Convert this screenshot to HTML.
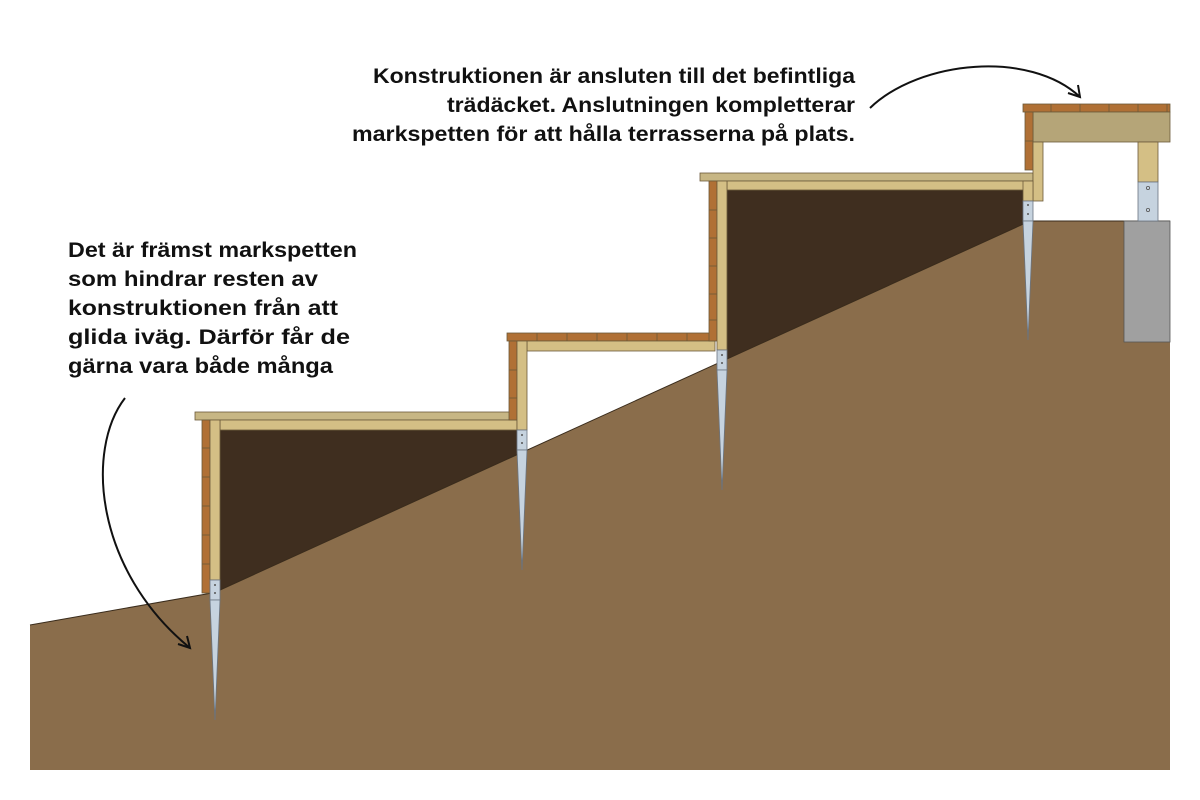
<!DOCTYPE html>
<html><head><meta charset="utf-8"><style>html,body{margin:0;padding:0;background:#fff}svg{display:block}</style></head>
<body>
<svg width="1200" height="800" viewBox="0 0 1200 800" xmlns="http://www.w3.org/2000/svg">
<g stroke="#5a4a35" stroke-width="0.8">
<polygon points="220,430 517,430 517,456 220,591" fill="#3f2e1f"/>
<polygon points="727,190 1024,190 1024,225 727,361" fill="#3f2e1f"/>
<polygon points="30,625 212,593 220,590 1030,221 1170,221 1170,770 30,770" fill="#8a6d4b" stroke="none"/>
<polyline points="30,625 212,593 220,590 1030,221 1170,221" fill="none" stroke="#3a2c1c" stroke-width="1"/>
<rect x="1124" y="221" width="46" height="121" fill="#a0a0a0" stroke="#555"/>
</g>
<g stroke="#6b5a3a" stroke-width="0.8">
<rect x="195" y="412" width="322" height="8" fill="#c7b684"/>
<rect x="220" y="420" width="297" height="10" fill="#d4bf85"/>
<rect x="202" y="420" width="8" height="173" fill="#b07035"/>
<line x1="202" y1="448" x2="210" y2="448"/><line x1="202" y1="477" x2="210" y2="477"/><line x1="202" y1="506" x2="210" y2="506"/><line x1="202" y1="535" x2="210" y2="535"/><line x1="202" y1="564" x2="210" y2="564"/>
<rect x="210" y="420" width="10" height="160" fill="#d4bf85"/>
<rect x="507" y="333" width="208" height="8" fill="#b07035"/>
<line x1="537" y1="333" x2="537" y2="341"/><line x1="567" y1="333" x2="567" y2="341"/><line x1="597" y1="333" x2="597" y2="341"/><line x1="627" y1="333" x2="627" y2="341"/><line x1="657" y1="333" x2="657" y2="341"/><line x1="687" y1="333" x2="687" y2="341"/>
<rect x="527" y="341" width="188" height="10" fill="#d4bf85"/>
<rect x="509" y="341" width="8" height="79" fill="#b07035"/>
<line x1="509" y1="370" x2="517" y2="370"/><line x1="509" y1="398" x2="517" y2="398"/>
<rect x="517" y="341" width="10" height="89" fill="#d4bf85"/>
<rect x="700" y="173" width="333" height="8" fill="#c7b684"/>
<rect x="727" y="181" width="306" height="9" fill="#d4bf85"/>
<rect x="709" y="181" width="8" height="160" fill="#b07035"/>
<line x1="709" y1="210" x2="717" y2="210"/><line x1="709" y1="238" x2="717" y2="238"/><line x1="709" y1="266" x2="717" y2="266"/><line x1="709" y1="294" x2="717" y2="294"/><line x1="709" y1="320" x2="717" y2="320"/>
<rect x="717" y="181" width="10" height="169" fill="#d4bf85"/>
<rect x="1023" y="104" width="147" height="8" fill="#b07035"/>
<line x1="1051" y1="104" x2="1051" y2="112"/><line x1="1080" y1="104" x2="1080" y2="112"/><line x1="1109" y1="104" x2="1109" y2="112"/><line x1="1138" y1="104" x2="1138" y2="112"/><line x1="1167" y1="104" x2="1167" y2="112"/>
<rect x="1033" y="112" width="137" height="30" fill="#b5a578"/>
<rect x="1025" y="112" width="8" height="58" fill="#b07035"/>
<line x1="1025" y1="141" x2="1033" y2="141"/>
<rect x="1033" y="142" width="10" height="59" fill="#d4bf85"/>
<rect x="1023" y="181" width="10" height="20" fill="#d4bf85"/>
<rect x="1138" y="142" width="20" height="40" fill="#d4bf85"/>
</g>
<g fill="#c6d3df" stroke="#6a7480" stroke-width="0.8">
<rect x="210" y="580" width="10" height="20"/><polygon points="210,600 220,600 215,720"/>
<rect x="517" y="430" width="10" height="20"/><polygon points="517,450 527,450 522,570"/>
<rect x="717" y="350" width="10" height="20"/><polygon points="717,370 727,370 722,490"/>
<rect x="1023" y="201" width="10" height="20"/><polygon points="1023,221 1033,221 1028,340"/>
<rect x="1138" y="182" width="20" height="39"/>
</g>
<g fill="#555"><circle cx="215" cy="585" r="1"/><circle cx="215" cy="593" r="1"/><circle cx="522" cy="435" r="1"/><circle cx="522" cy="443" r="1"/><circle cx="722" cy="355" r="1"/><circle cx="722" cy="363" r="1"/><circle cx="1028" cy="205" r="1"/><circle cx="1028" cy="214" r="1"/></g>
<g fill="none" stroke="#555" stroke-width="0.8"><circle cx="1148" cy="188" r="1.6"/><circle cx="1148" cy="210" r="1.6"/></g>
<g fill="none" stroke="#111" stroke-width="2">
<path d="M870,108 C920,60 1030,50 1080,97"/>
<path d="M1068,93 L1080,97 L1078,85"/>
<path d="M125,398 C85,450 95,570 190,648"/>
<path d="M178,644 L190,648 L187,636"/>
</g>
<g font-family="'Liberation Sans', sans-serif" font-weight="bold" font-size="21" fill="#111">
<text x="373" y="83" textLength="482" lengthAdjust="spacingAndGlyphs">Konstruktionen är ansluten till det befintliga</text>
<text x="447" y="112" textLength="408" lengthAdjust="spacingAndGlyphs">trädäcket. Anslutningen kompletterar</text>
<text x="352" y="141" textLength="503" lengthAdjust="spacingAndGlyphs">markspetten för att hålla terrasserna på plats.</text>
<text x="68" y="257" textLength="289" lengthAdjust="spacingAndGlyphs">Det är främst markspetten</text>
<text x="68" y="286" textLength="250" lengthAdjust="spacingAndGlyphs">som hindrar resten av</text>
<text x="68" y="315" textLength="270" lengthAdjust="spacingAndGlyphs">konstruktionen från att</text>
<text x="68" y="344" textLength="282" lengthAdjust="spacingAndGlyphs">glida iväg. Därför får de</text>
<text x="68" y="373" textLength="265" lengthAdjust="spacingAndGlyphs">gärna vara både många</text>
</g>
</svg>
</body></html>
